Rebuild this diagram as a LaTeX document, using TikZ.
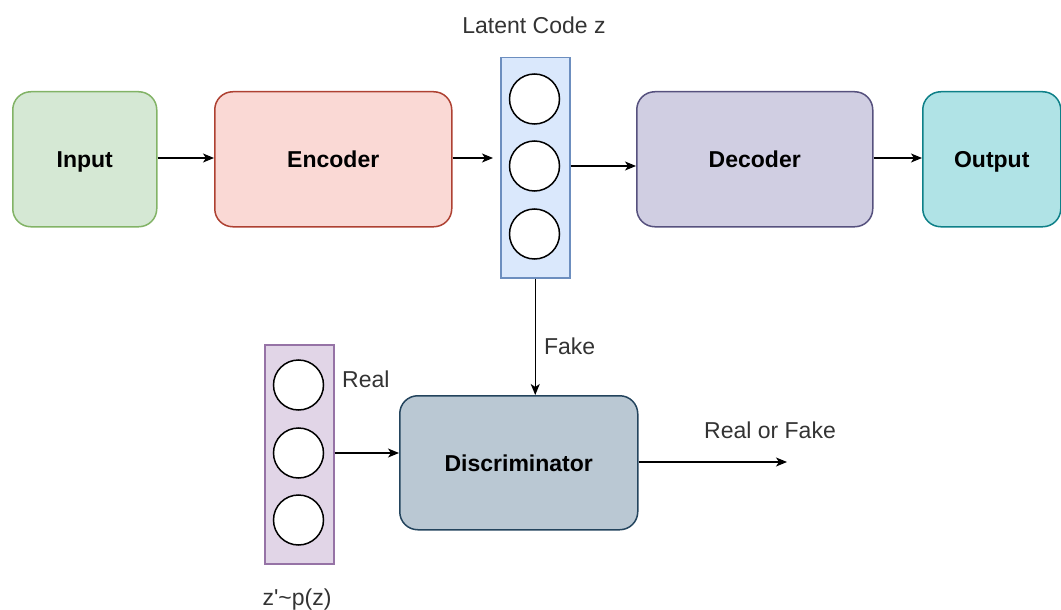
\documentclass[tikz,border=0pt]{standalone}
\usepackage{fontspec}
\setmainfont{Liberation Sans}
\usetikzlibrary{arrows.meta,positioning}

\definecolor{inFill}{HTML}{D5E8D4}\definecolor{inLine}{HTML}{82B366}
\definecolor{encFill}{HTML}{FAD9D5}\definecolor{encLine}{HTML}{AE4132}
\definecolor{decFill}{HTML}{D0CEE2}\definecolor{decLine}{HTML}{56517E}
\definecolor{outFill}{HTML}{B0E3E6}\definecolor{outLine}{HTML}{0E8088}
\definecolor{latFill}{HTML}{DAE8FC}\definecolor{latLine}{HTML}{6C8EBF}
\definecolor{priFill}{HTML}{E1D5E7}\definecolor{priLine}{HTML}{9673A6}
\definecolor{disFill}{HTML}{BAC8D3}\definecolor{disLine}{HTML}{23445D}
\definecolor{labelGray}{HTML}{333333}

\newcommand{\straightquote}{\XeTeXglyph\XeTeXcharglyph"27\relax}

\begin{document}
\begin{tikzpicture}[x=1pt,y=-1pt,
  block/.style={draw, line width=1.5pt, rounded corners=18pt, anchor=north west,
    font=\fontsize{23}{27}\selectfont\bfseries, inner sep=0pt, text depth=0pt},
  bar/.style={draw, line width=1.5pt, anchor=north west, inner sep=0pt},
  unit/.style={circle, draw=black, fill=white, line width=1.5pt, minimum size=50pt, inner sep=0pt},
  lbl/.style={font=\fontsize{23}{27}\selectfont, text=labelGray, inner sep=0pt},
  arr/.style={-{Stealth[length=11pt,width=9pt,inset=3pt]}, line width=1.5pt, black}]

\useasboundingbox (0,0) rectangle (1061,610);

% encoder / decoder pipeline
\node[block, fill=inFill, draw=inLine, minimum width=144pt, minimum height=135pt] (in) at (12,91) {Input};
\node[block, fill=encFill, draw=encLine, minimum width=237pt, minimum height=135pt] (enc) at (214,91) {Encoder};
\node[block, fill=decFill, draw=decLine, minimum width=236pt, minimum height=135pt] (dec) at (636,91) {Decoder};
\node[block, fill=outFill, draw=outLine, minimum width=138pt, minimum height=135pt] (out) at (922,91) {Output};

% latent code z
\node[bar, fill=latFill, draw=latLine, minimum width=69pt, minimum height=220pt] (lat) at (500,57) {};
\node[unit] (lat1) at (534.5,99) {};
\node[unit] (lat2) at (534.5,166) {};
\node[unit] (lat3) at (534.5,234) {};
\node[lbl] (latlbl) at (534,25) {Latent Code z};

% prior samples z'
\node[bar, fill=priFill, draw=priLine, minimum width=69pt, minimum height=219pt] (pri) at (264,344) {};
\node[unit] (pri1) at (298.5,385) {};
\node[unit] (pri2) at (298.5,453) {};
\node[unit] (pri3) at (298.5,520) {};
\node[lbl] (prilbl) at (297,600) {z\straightquote\textasciitilde p(z)};

% discriminator
\node[block, fill=disFill, draw=disLine, minimum width=238pt, minimum height=134pt] (dis) at (399,395) {Discriminator};
\coordinate (res) at (787,462);

% connectors
\draw[arr] (in.east |- 0,158) -- (enc.west |- 0,158);
\draw[arr, shorten >=7pt] (enc.east |- 0,158) -- (lat.west |- 0,158);
\draw[arr] (lat2 -| lat.east) -- (lat2 -| dec.west);
\draw[arr] (dec.east |- 0,158) -- (out.west |- 0,158);
\draw[arr] (lat.south) -- (lat.south |- dis.north)
  node[lbl, pos=0.58, anchor=west, xshift=8pt] (fake) {Fake};
\draw[arr] (pri2 -| pri.east) -- (pri2 -| dis.west);
\draw[arr] (dis.east |- res) -- (res);

% edge labels
\node[lbl, anchor=west] (real) at (342,379) {Real};
\node[lbl] (rof) at (770,430) {Real or Fake};
\end{tikzpicture}
\end{document}
